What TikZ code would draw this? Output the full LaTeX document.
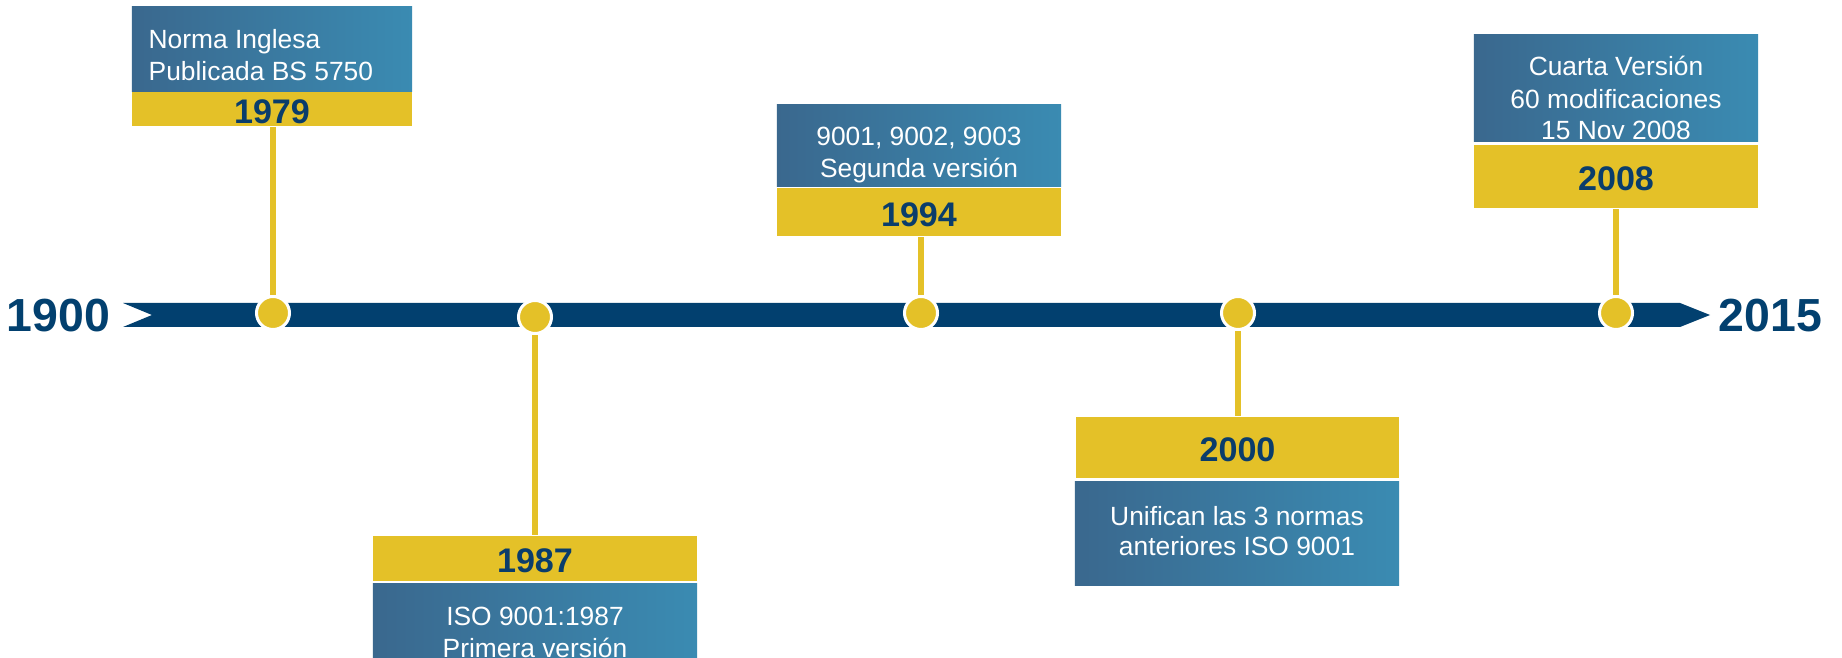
\documentclass[tikz,border=0pt]{standalone}
\usepackage{fontspec}
\setmainfont{Liberation Sans}
\definecolor{barblue}{RGB}{2,64,111}
\definecolor{yearblue}{RGB}{10,61,107}
\definecolor{gold}{RGB}{228,193,40}
\definecolor{boxleft}{RGB}{58,104,142}
\definecolor{boxright}{RGB}{58,139,178}
\tikzset{
  bluebox/.style={rectangle, inner sep=0pt, left color=boxleft, right color=boxright},
  yearbox/.style={rectangle, inner sep=0pt, fill=gold, text=yearblue,
    font=\fontsize{9.7}{11}\selectfont\bfseries, text height=8.1pt, text depth=0pt},
  bodytext/.style={anchor=base, inner sep=0pt, text=white, font=\fontsize{7.5}{9}\selectfont},
  endyear/.style={anchor=base, inner sep=0pt, text=barblue, font=\fontsize{13.2}{15}\selectfont\bfseries},
  stem/.style={gold, line width=0.06cm},
  dot/.style={circle, inner sep=0pt, minimum size=0.33cm, fill=gold, draw=white, line width=0.03cm}
}
\begin{document}
\begin{tikzpicture}[x=0.01cm, y=-0.01cm]
  \clip (0,0) rectangle (1842,658);
  \fill[white] (0,0) rectangle (1842,658);

  % time axis
  \fill[barblue] (123,303) -- (1680,303) -- (1710,315) -- (1680,327) -- (123,327) -- (152,315) -- cycle;
  \node[endyear] (start) at (58.5,331.6) {1900};
  \node[endyear] (finish) at (1770.5,331.6) {2015};

  % 1979
  \node[bluebox, minimum width=2.8cm, minimum height=0.84cm] (b1979) at (272,49) {};
  \node[yearbox, minimum width=2.8cm, minimum height=0.34cm] (y1979) at (272,109) {1979};
  \node[bodytext, anchor=base west] (t1979a) at (148,48.4) {Norma Inglesa};
  \node[bodytext, anchor=base west] (t1979b) at (148,80.4) {Publicada BS 5750};
  \node[dot] (c1979) at (273,313) {};
  \draw[stem] (c1979.north) -- (c1979 |- y1979.south);

  % 1987
  \node[yearbox, minimum width=3.24cm, minimum height=0.45cm] (y1987) at (535,558.5) {1987};
  \node[bluebox, minimum width=3.24cm, minimum height=0.92cm] (b1987) at (535,630) {};
  \node[bodytext] (t1987a) at (535,625.5) {ISO 9001:1987};
  \node[bodytext] (t1987b) at (535,657) {Primera versión};
  \node[dot] (c1987) at (535,317) {};
  \draw[stem] (c1987.south) -- (c1987 |- y1987.north);

  % 1994
  \node[bluebox, minimum width=2.84cm, minimum height=0.81cm] (b1994) at (919,145.5) {};
  \node[yearbox, minimum width=2.84cm, minimum height=0.48cm] (y1994) at (919,212) {1994};
  \node[bodytext] (t1994a) at (919,145.7) {9001, 9002, 9003};
  \node[bodytext] (t1994b) at (919,177.7) {Segunda versión};
  \node[dot] (c1994) at (921,313) {};
  \draw[stem] (c1994.north) -- (c1994 |- y1994.south);

  % 2000
  \node[yearbox, minimum width=3.23cm, minimum height=0.61cm] (y2000) at (1237.5,447.5) {2000};
  \node[bluebox, minimum width=3.24cm, minimum height=1.03cm] (b2000) at (1237,533.5) {};
  \node[bodytext] (t2000a) at (1237,525) {Unifican las 3 normas};
  \node[bodytext] (t2000b) at (1237,556) {anteriores ISO 9001};
  \node[dot] (c2000) at (1238,313) {};
  \draw[stem] (c2000.south) -- (c2000 |- y2000.north);

  % 2008
  \node[bluebox, minimum width=2.84cm, minimum height=1.06cm] (b2008) at (1616,88) {};
  \node[yearbox, minimum width=2.84cm, minimum height=0.63cm] (y2008) at (1616,176.5) {2008};
  \node[bodytext] (t2008a) at (1616,76) {Cuarta Versión};
  \node[bodytext] (t2008b) at (1616,108.3) {60 modificaciones};
  \node[bodytext] (t2008c) at (1616,139.3) {15 Nov 2008};
  \node[dot] (c2008) at (1616,313) {};
  \draw[stem] (c2008.north) -- (c2008 |- y2008.south);
\end{tikzpicture}
\end{document}
